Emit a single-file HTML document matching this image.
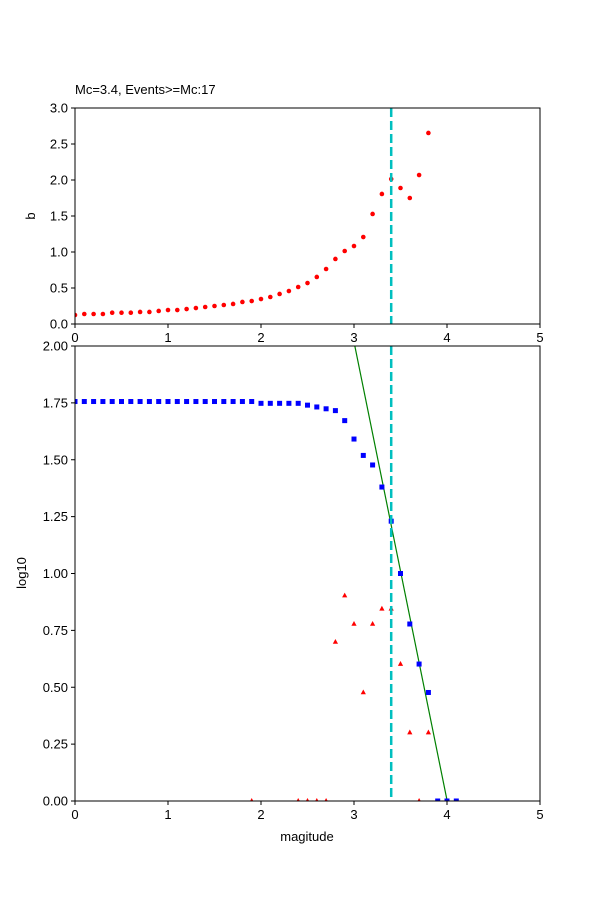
<!DOCTYPE html>
<html><head><meta charset="utf-8"><style>
body{margin:0;background:#fff}
svg{display:block;font-family:"Liberation Sans",sans-serif}
</style></head><body>
<svg id="chart" width="600" height="900" xmlns="http://www.w3.org/2000/svg">
<rect width="600" height="900" fill="#fff"/>
<text x="75" y="94" font-size="13">Mc=3.4, Events&gt;=Mc:17</text>
<g id="topPlot"></g>
<g id="botPlot"></g>
<text x="35" y="216" font-size="13" text-anchor="middle" transform="rotate(-90 35 216)">b</text>
<text x="26" y="573" font-size="13" text-anchor="middle" transform="rotate(-90 26 573)">log10</text>
<text x="307" y="841" font-size="13" text-anchor="middle">magitude</text>
</svg>
<script>
const mags = [0,0.1,0.2,0.3,0.4,0.5,0.6,0.7,0.8,0.9,1.0,1.1,1.2,1.3,1.4,1.5,1.6,1.7,1.8,1.9,2.0,2.1,2.2,2.3,2.4,2.5,2.6,2.7,2.8,2.9,3.0,3.1,3.2,3.3,3.4,3.5,3.6,3.7,3.8,3.9,4.0,4.1];
const bValues = [0.125,0.139,0.139,0.139,0.157,0.157,0.157,0.167,0.167,0.181,0.194,0.194,0.208,0.222,0.236,0.25,0.264,0.278,0.306,0.319,0.347,0.375,0.417,0.458,0.514,0.569,0.653,0.764,0.903,1.014,1.083,1.208,1.528,1.806,2.014,1.889,1.75,2.069,2.653];
const cumLog = [1.756,1.756,1.756,1.756,1.756,1.756,1.756,1.756,1.756,1.756,1.756,1.756,1.756,1.756,1.756,1.756,1.756,1.756,1.756,1.756,1.748,1.748,1.748,1.748,1.748,1.740,1.732,1.724,1.716,1.672,1.591,1.519,1.477,1.380,1.230,1.0,0.778,0.602,0.477,0,0,0];
const triMags = [1.9,2.4,2.5,2.6,2.7,2.8,2.9,3.0,3.1,3.2,3.3,3.4,3.5,3.6,3.7,3.8];
const triLog = [0,0,0,0,0,0.699,0.903,0.778,0.477,0.778,0.845,0.845,0.602,0.301,0,0.301];
const mc = 3.4;
const fitA = 8.06, fitB = 2.014;
const xTicks = [0,1,2,3,4,5];
const topYTicks = ["0.0","0.5","1.0","1.5","2.0","2.5","3.0"];
const botYTicks = ["0.00","0.25","0.50","0.75","1.00","1.25","1.50","1.75","2.00"];

const NS="http://www.w3.org/2000/svg";
function mk(p,t,a){const e=document.createElementNS(NS,t);for(const k in a)e.setAttribute(k,a[k]);p.appendChild(e);return e;}
const X0=75,X1=540;
const xs=m=>X0+(m/5)*(X1-X0);
const yT=v=>324-(v/3)*216;
const yB=v=>801-(v/2)*455;

function frame(g,t0,b0,yTicks,yfn,prefix){
  const cp=prefix+'-clip';
  const d=mk(g,'clipPath',{id:cp});mk(d,'rect',{x:X0,y:t0,width:X1-X0,height:b0-t0});
  xTicks.forEach(t=>{
    const l=mk(g,'line',{x1:xs(t),x2:xs(t),y1:b0,y2:b0+4,stroke:'#000'});
    
    
    const tx=mk(g,'text',{x:xs(t),y:b0+18,'font-size':13,'text-anchor':'middle'});tx.textContent=t;
    
    
  });
  yTicks.forEach(s=>{
    const v=parseFloat(s);
    const l=mk(g,'line',{x1:X0-4,x2:X0,y1:yfn(v),y2:yfn(v),stroke:'#000'});
    
    
    const tx=mk(g,'text',{x:X0-7,y:yfn(v)+4.5,'font-size':13,'text-anchor':'end'});tx.textContent=s;
    
    
  });
  return cp;
}

const topG=document.getElementById('topPlot');
const cpT=frame(topG,108,324,topYTicks,yT,'top');
const tm=mk(topG,'g',{'clip-path':'url(#'+cpT+')'});
bValues.forEach((v,i)=>{
  const c=mk(tm,'circle',{cx:xs(mags[i]),cy:yT(v),r:2.3,fill:'#f00'});
  
  
});
const mcT=mk(topG,'line',{x1:xs(mc),x2:xs(mc),y1:108,y2:324,stroke:'#00bfbf','stroke-width':2.5,'stroke-dasharray':'9,4'});


const fT=mk(topG,'rect',{x:X0,y:108,width:X1-X0,height:216,fill:'none',stroke:'#000'});



const botG=document.getElementById('botPlot');
const cpB=frame(botG,346,801,botYTicks,yB,'bottom');
const bm=mk(botG,'g',{'clip-path':'url(#'+cpB+')'});
const fit=mk(bm,'line',{x1:xs(2.8),y1:yB(fitA-fitB*2.8),x2:xs(4.2),y2:yB(fitA-fitB*4.2),stroke:'#008000','stroke-width':1.2});


triLog.forEach((v,i)=>{
  const cx=xs(triMags[i]),cy=yB(v);
  const p=mk(bm,'polygon',{points:`${cx},${cy-3} ${cx-2.6},${cy+1.8} ${cx+2.6},${cy+1.8}`,fill:'#f00'});
  
  
});
cumLog.forEach((v,i)=>{
  const r=mk(bm,'rect',{x:xs(mags[i])-2.5,y:yB(v)-2.5,width:5,height:5,fill:'#00f'});
  
  
});
const mcB=mk(botG,'line',{x1:xs(mc),x2:xs(mc),y1:346,y2:801,stroke:'#00bfbf','stroke-width':2.5,'stroke-dasharray':'9,4'});


const fB=mk(botG,'rect',{x:X0,y:346,width:X1-X0,height:455,fill:'none',stroke:'#000'});


</script>
</body></html>
